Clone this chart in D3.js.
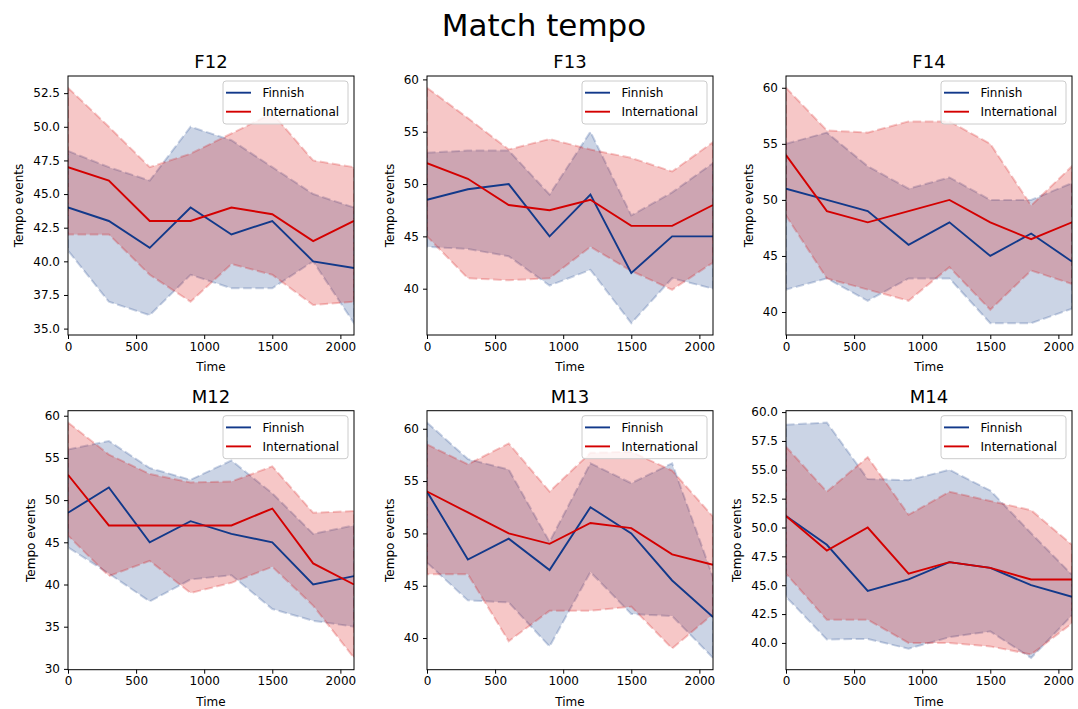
<!DOCTYPE html>
<html>
<head>
<meta charset="utf-8">
<script src="https://cdn.jsdelivr.net/npm/d3@7"></script>
<style>
  body { margin: 0; background: #fff; }
  svg { display: block; font-family: "DejaVu Sans", sans-serif; }
</style>
</head>
<body>
<svg id="chart" width="1078" height="709"></svg>
<script>
// Sampling times (seconds) shared by every panel
const times = [0, 300, 600, 900, 1200, 1500, 1800, 2100];
const panelNames = ["F12", "F13", "F14", "M12", "M13", "M14"];
const seriesNames = ["Finnish", "International"];
const xTickLabels = ["0", "500", "1000", "1500", "2000"];
const yTickLabels = [
  ["35.0", "37.5", "40.0", "42.5", "45.0", "47.5", "50.0", "52.5"],
  ["40", "45", "50", "55", "60"],
  ["40", "45", "50", "55", "60"],
  ["30", "35", "40", "45", "50", "55", "60"],
  ["40", "45", "50", "55", "60"],
  ["40.0", "42.5", "45.0", "47.5", "50.0", "52.5", "55.0", "57.5", "60.0"]
];

// Finnish teams: mean tempo and band limits, one row per panel
const finnishMean = [
  [44, 43, 41, 44, 42, 43, 40, 39.5],
  [48.5, 49.5, 50, 45, 49, 41.5, 45, 45],
  [51, 50, 49, 46, 48, 45, 47, 44.5],
  [48.5, 51.5, 45, 47.5, 46, 45, 40, 41],
  [54, 47.5, 49.5, 46.5, 52.5, 50, 45.5, 42],
  [51, 48.5, 44.5, 45.5, 47, 46.5, 45, 44]
];
const finnishLower = [
  [40.8, 37, 36, 39, 38, 38, 40, 35.4],
  [44, 43.8, 43.1, 40.3, 41.8, 36.7, 41, 40],
  [42, 43, 41, 43, 43, 39, 39, 40.3],
  [44.4, 41.3, 38, 40.6, 41.1, 37.1, 35.7, 35],
  [47.2, 43.6, 43.4, 39.2, 46.3, 42.3, 42.1, 38.1],
  [44, 40.3, 40.35, 39.5, 40.5, 41, 38.7, 42.4]
];
const finnishUpper = [
  [48.2, 47, 46, 50, 49, 47, 45, 44],
  [53, 53.2, 53.2, 49, 55, 47, 49.2, 52],
  [55, 56, 53, 51, 52, 50, 50, 51.5],
  [56, 57, 53.8, 52.4, 54.7, 50.8, 46, 47],
  [60.6, 57.1, 56.1, 49.2, 56.7, 54.8, 56.7, 45.8],
  [58.9, 59.1, 54.2, 54.1, 55, 53.2, 49.5, 45.9]
];

// International teams
const intlMean = [
  [47, 46, 43, 43, 44, 43.5, 41.5, 43],
  [52, 50.5, 48, 47.5, 48.5, 46, 46, 48],
  [54, 49, 48, 49, 50, 48, 46.5, 48],
  [53, 47, 47, 47, 47, 49, 42.5, 40],
  [54, 52, 50, 49, 51, 50.5, 48, 47],
  [51, 48, 50, 46, 47, 46.5, 45.5, 45.5]
];
const intlLower = [
  [42, 42, 39, 37, 39.8, 39, 36.75, 37],
  [45, 41, 40.8, 41, 44, 41.7, 39.9, 42.5],
  [48.6, 43, 42, 41, 44, 40.2, 43.7, 42.5],
  [45.8, 41, 42.8, 39, 40.2, 42.1, 37.5, 31.3],
  [46.1, 46.1, 39.7, 42.6, 42.6, 43, 39, 42.3],
  [46, 42, 42, 40, 40, 39.7, 39, 41.7]
];
const intlUpper = [
  [52.9, 50, 47, 48, 49.5, 51, 47.5, 47],
  [59.2, 56.3, 53.3, 54.3, 53.3, 52.5, 51.2, 54],
  [60, 56.2, 56, 57, 57, 55, 49.5, 53],
  [59.2, 55.4, 53.1, 52.1, 52.2, 54, 48.5, 48.7],
  [58.5, 56.6, 58.6, 54, 57.7, 57.8, 56, 51.6],
  [57, 53.1, 56.1, 51.1, 53.1, 52.3, 51.5, 48.5]
];

const colors = { Finnish: "#12398a", International: "#d40000" };

const svg = d3.select("#chart");
const W = 286, H = 259;
const colLeft = [68, 427, 786];
const rowTop = [76, 410.7];
const fontSize = 12;

svg.append("text")
  .attr("x", 544).attr("y", 36)
  .attr("text-anchor", "middle")
  .attr("font-size", 31)
  .attr("fill", "#000")
  .text("Match tempo");

const x = d3.scaleLinear().domain([0, 2100]).range([0, W]);

panelNames.forEach((name, i) => {
  const col = i % 3, row = Math.floor(i / 3);
  const g = svg.append("g")
    .attr("transform", `translate(${colLeft[col]},${rowTop[row]})`);

  const series = [
    { key: "Finnish", mean: finnishMean[i], lo: finnishLower[i], hi: finnishUpper[i] },
    { key: "International", mean: intlMean[i], lo: intlLower[i], hi: intlUpper[i] }
  ];

  // y range follows the data extent with a 5% margin on each side
  const all = series.flatMap(s => s.lo.concat(s.hi, s.mean));
  const [mn, mx] = d3.extent(all);
  const pad = (mx - mn) * 0.05;
  const y = d3.scaleLinear().domain([mn - pad, mx + pad]).range([H, 0]);

  const clipId = "clip" + i;
  g.append("clipPath").attr("id", clipId)
    .append("rect").attr("width", W).attr("height", H);

  const plot = g.append("g").attr("clip-path", `url(#${clipId})`);

  const area = d3.area()
    .x((d, j) => x(times[j]))
    .y0(d => y(d[0]))
    .y1(d => y(d[1]));
  const line = d3.line()
    .x((d, j) => x(times[j]))
    .y(d => y(d));

  // shaded bands with dashed outlines
  series.forEach(s => {
    const band = s.lo.map((v, j) => [v, s.hi[j]]);
    plot.append("path")
      .attr("d", area(band))
      .attr("fill", colors[s.key])
      .attr("fill-opacity", 0.22)
      .attr("stroke", colors[s.key])
      .attr("stroke-opacity", 0.22)
      .attr("stroke-width", 2)
      .attr("stroke-dasharray", "8.5,3.7");
  });

  // mean lines
  series.forEach(s => {
    plot.append("path")
      .attr("d", line(s.mean))
      .attr("fill", "none")
      .attr("stroke", colors[s.key])
      .attr("stroke-width", 1.9)
      .attr("stroke-linejoin", "miter");
  });

  // axes
  const xAxis = d3.axisBottom(x)
    .tickValues(xTickLabels.map(Number))
    .tickFormat((d, k) => xTickLabels[k])
    .tickSize(4).tickPadding(3);
  const gx = g.append("g").attr("transform", `translate(0,${H})`).call(xAxis);

  const yTicks = yTickLabels[i];
  const yAxis = d3.axisLeft(y)
    .tickValues(yTicks.map(Number))
    .tickFormat((d, k) => yTicks[k])
    .tickSize(4).tickPadding(4);
  const gy = g.append("g").call(yAxis);

  [gx, gy].forEach(ax => {
    ax.select(".domain").remove();
    ax.selectAll("text").attr("font-size", fontSize).attr("fill", "#000")
      .attr("font-family", "DejaVu Sans, sans-serif");
    ax.selectAll("line").attr("stroke", "#000").attr("stroke-width", 1);
  });

  g.append("rect")
    .attr("width", W).attr("height", H)
    .attr("fill", "none").attr("stroke", "#000").attr("stroke-width", 1);

  // panel title
  g.append("text")
    .attr("x", W / 2).attr("y", -8)
    .attr("text-anchor", "middle")
    .attr("font-size", 18)
    .attr("fill", "#000")
    .text(name);

  // axis labels
  g.append("text")
    .attr("x", W / 2).attr("y", H + 36)
    .attr("text-anchor", "middle")
    .attr("font-size", fontSize)
    .attr("fill", "#000")
    .text("Time");

  const tickLeft = d3.min(gy.selectAll("text").nodes(), n => n.getBBox().x - 4);
  g.append("text")
    .attr("transform", `translate(${tickLeft - 6},${H / 2}) rotate(-90)`)
    .attr("text-anchor", "middle")
    .attr("font-size", fontSize)
    .attr("fill", "#000")
    .text("Tempo events");

  // legend
  const lw = 125, lh = 43;
  const lg = g.append("g").attr("transform", `translate(${W - 6 - lw},5)`);
  lg.append("rect")
    .attr("width", lw).attr("height", lh)
    .attr("rx", 3)
    .attr("fill", "#fff").attr("fill-opacity", 0.8)
    .attr("stroke", "#cccccc").attr("stroke-width", 1);
  seriesNames.forEach((s, k) => {
    const yy = 11.7 + k * 19;
    lg.append("line")
      .attr("x1", 3).attr("x2", 28)
      .attr("y1", yy).attr("y2", yy)
      .attr("stroke", colors[s]).attr("stroke-width", 1.9);
    lg.append("text")
      .attr("x", 39.5).attr("y", yy + 4.4)
      .attr("font-size", fontSize)
      .attr("fill", "#000")
      .text(s);
  });
});
</script>
</body>
</html>
